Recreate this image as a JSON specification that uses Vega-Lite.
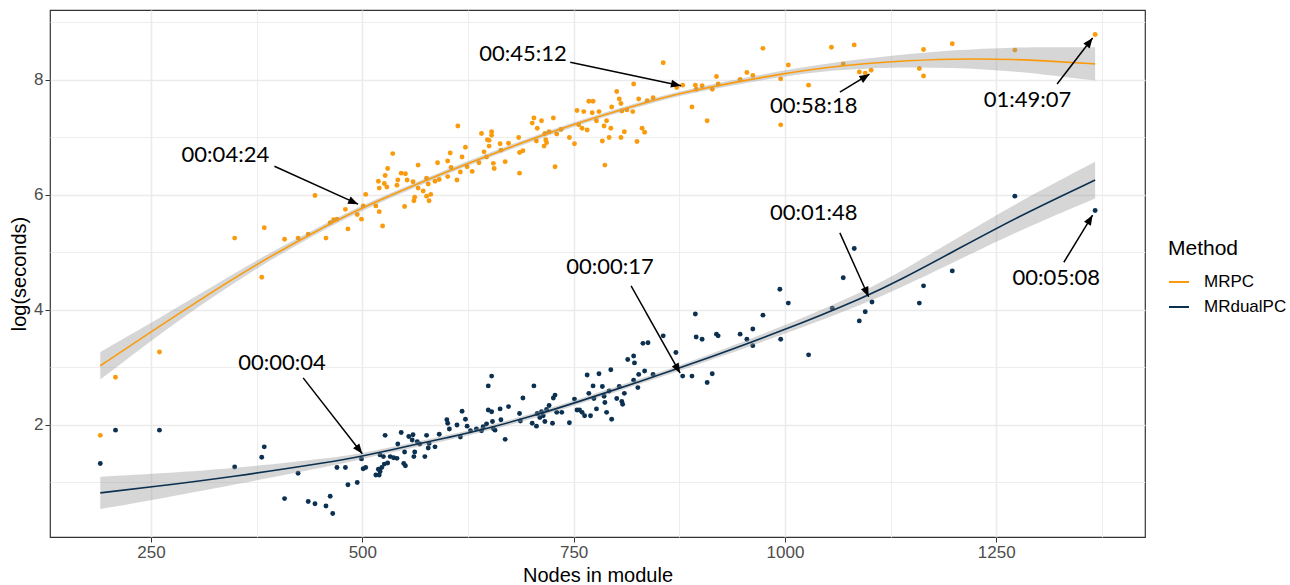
{
  "$schema": "https://vega.github.io/schema/vega-lite/v6.json",
  "width": 1095,
  "height": 527,
  "autosize": {"type": "none"},
  "padding": {"left": 50, "top": 10, "right": 145, "bottom": 48},
  "background": "white",
  "config": {
    "view": {"stroke": "#333333", "strokeWidth": 1.2},
    "axis": {
      "domain": false,
      "gridColor": "#EBEBEB",
      "tickColor": "#333333",
      "tickSize": 5,
      "tickWidth": 1,
      "labelFont": "Liberation Sans",
      "labelFontSize": 17,
      "labelColor": "#4D4D4D",
      "labelPadding": 2,
      "titleFont": "Liberation Sans",
      "titleFontSize": 20,
      "titleFontWeight": "normal",
      "titleColor": "black"
    }
  },
  "datasets": {
    "points": [
      {"method":"MRPC","nodes":190,"logsec":1.82},{"method":"MRPC","nodes":208,"logsec":2.83},{"method":"MRPC","nodes":260,"logsec":3.27},{"method":"MRPC","nodes":349,"logsec":5.25},{"method":"MRPC","nodes":384,"logsec":5.43},{"method":"MRPC","nodes":381,"logsec":4.57},{"method":"MRPC","nodes":408,"logsec":5.23},{"method":"MRPC","nodes":424,"logsec":5.25},{"method":"MRPC","nodes":436,"logsec":5.32},{"method":"MRPC","nodes":444,"logsec":5.99},{"method":"MRPC","nodes":457,"logsec":5.25},{"method":"MRPC","nodes":462,"logsec":5.52},{"method":"MRPC","nodes":466,"logsec":5.57},{"method":"MRPC","nodes":470,"logsec":5.58},{"method":"MRPC","nodes":480,"logsec":5.75},{"method":"MRPC","nodes":483,"logsec":5.41},{"method":"MRPC","nodes":494,"logsec":5.66},{"method":"MRPC","nodes":499,"logsec":5.58},{"method":"MRPC","nodes":501,"logsec":5.81},{"method":"MRPC","nodes":504,"logsec":6.01},{"method":"MRPC","nodes":516,"logsec":5.81},{"method":"MRPC","nodes":520,"logsec":5.71},{"method":"MRPC","nodes":524,"logsec":5.46},{"method":"MRPC","nodes":519,"logsec":6.24},{"method":"MRPC","nodes":520,"logsec":6.12},{"method":"MRPC","nodes":527,"logsec":6.34},{"method":"MRPC","nodes":526,"logsec":6.2},{"method":"MRPC","nodes":530,"logsec":6.46},{"method":"MRPC","nodes":529,"logsec":6.14},{"method":"MRPC","nodes":536,"logsec":6.72},{"method":"MRPC","nodes":541,"logsec":6.17},{"method":"MRPC","nodes":542,"logsec":6.26},{"method":"MRPC","nodes":546,"logsec":6.38},{"method":"MRPC","nodes":550,"logsec":5.8},{"method":"MRPC","nodes":551,"logsec":6.37},{"method":"MRPC","nodes":553,"logsec":6.26},{"method":"MRPC","nodes":560,"logsec":6.23},{"method":"MRPC","nodes":562,"logsec":5.96},{"method":"MRPC","nodes":561,"logsec":5.9},{"method":"MRPC","nodes":566,"logsec":6.52},{"method":"MRPC","nodes":566,"logsec":6.12},{"method":"MRPC","nodes":572,"logsec":6.07},{"method":"MRPC","nodes":576,"logsec":6.29},{"method":"MRPC","nodes":576,"logsec":5.98},{"method":"MRPC","nodes":579,"logsec":5.9},{"method":"MRPC","nodes":581,"logsec":6.01},{"method":"MRPC","nodes":578,"logsec":6.19},{"method":"MRPC","nodes":586,"logsec":6.24},{"method":"MRPC","nodes":589,"logsec":6.56},{"method":"MRPC","nodes":591,"logsec":6.27},{"method":"MRPC","nodes":601,"logsec":6.32},{"method":"MRPC","nodes":601,"logsec":6.59},{"method":"MRPC","nodes":604,"logsec":6.73},{"method":"MRPC","nodes":641,"logsec":7.07},{"method":"MRPC","nodes":648,"logsec":6.96},{"method":"MRPC","nodes":644,"logsec":6.75},{"method":"MRPC","nodes":638,"logsec":6.56},{"method":"MRPC","nodes":647,"logsec":6.66},{"method":"MRPC","nodes":613,"logsec":7.2},{"method":"MRPC","nodes":622,"logsec":6.83},{"method":"MRPC","nodes":618,"logsec":6.66},{"method":"MRPC","nodes":616,"logsec":6.4},{"method":"MRPC","nodes":612,"logsec":6.26},{"method":"MRPC","nodes":624,"logsec":6.49},{"method":"MRPC","nodes":630,"logsec":6.41},{"method":"MRPC","nodes":605,"logsec":6.48},{"method":"MRPC","nodes":653,"logsec":7.1},{"method":"MRPC","nodes":653,"logsec":7.04},{"method":"MRPC","nodes":650,"logsec":6.95},{"method":"MRPC","nodes":650,"logsec":6.85},{"method":"MRPC","nodes":655,"logsec":6.55},{"method":"MRPC","nodes":656,"logsec":6.46},{"method":"MRPC","nodes":663,"logsec":6.89},{"method":"MRPC","nodes":664,"logsec":6.78},{"method":"MRPC","nodes":669,"logsec":6.58},{"method":"MRPC","nodes":673,"logsec":6.9},{"method":"MRPC","nodes":686,"logsec":6.38},{"method":"MRPC","nodes":685,"logsec":7.0},{"method":"MRPC","nodes":686,"logsec":6.74},{"method":"MRPC","nodes":690,"logsec":6.77},{"method":"MRPC","nodes":701,"logsec":7.25},{"method":"MRPC","nodes":703,"logsec":7.34},{"method":"MRPC","nodes":706,"logsec":6.94},{"method":"MRPC","nodes":707,"logsec":7.16},{"method":"MRPC","nodes":712,"logsec":7.29},{"method":"MRPC","nodes":716,"logsec":7.07},{"method":"MRPC","nodes":717,"logsec":6.96},{"method":"MRPC","nodes":715,"logsec":6.85},{"method":"MRPC","nodes":718,"logsec":6.91},{"method":"MRPC","nodes":721,"logsec":7.1},{"method":"MRPC","nodes":726,"logsec":7.34},{"method":"MRPC","nodes":728,"logsec":6.49},{"method":"MRPC","nodes":730,"logsec":7.06},{"method":"MRPC","nodes":735,"logsec":7.14},{"method":"MRPC","nodes":745,"logsec":7.0},{"method":"MRPC","nodes":751,"logsec":6.89},{"method":"MRPC","nodes":754,"logsec":7.47},{"method":"MRPC","nodes":756,"logsec":7.22},{"method":"MRPC","nodes":760,"logsec":7.16},{"method":"MRPC","nodes":762,"logsec":7.45},{"method":"MRPC","nodes":766,"logsec":7.13},{"method":"MRPC","nodes":768,"logsec":7.63},{"method":"MRPC","nodes":773,"logsec":7.63},{"method":"MRPC","nodes":772,"logsec":7.43},{"method":"MRPC","nodes":777,"logsec":7.29},{"method":"MRPC","nodes":780,"logsec":7.45},{"method":"MRPC","nodes":784,"logsec":6.94},{"method":"MRPC","nodes":786,"logsec":7.2},{"method":"MRPC","nodes":787,"logsec":6.52},{"method":"MRPC","nodes":789,"logsec":7.29},{"method":"MRPC","nodes":792,"logsec":7.0},{"method":"MRPC","nodes":794,"logsec":7.16},{"method":"MRPC","nodes":795,"logsec":7.53},{"method":"MRPC","nodes":801,"logsec":7.8},{"method":"MRPC","nodes":804,"logsec":7.67},{"method":"MRPC","nodes":806,"logsec":7.59},{"method":"MRPC","nodes":807,"logsec":7.46},{"method":"MRPC","nodes":806,"logsec":7.0},{"method":"MRPC","nodes":810,"logsec":7.1},{"method":"MRPC","nodes":813,"logsec":7.48},{"method":"MRPC","nodes":821,"logsec":7.93},{"method":"MRPC","nodes":820,"logsec":7.45},{"method":"MRPC","nodes":827,"logsec":7.67},{"method":"MRPC","nodes":825,"logsec":6.93},{"method":"MRPC","nodes":831,"logsec":7.16},{"method":"MRPC","nodes":834,"logsec":7.09},{"method":"MRPC","nodes":837,"logsec":7.64},{"method":"MRPC","nodes":844,"logsec":7.69},{"method":"MRPC","nodes":856,"logsec":8.3},{"method":"MRPC","nodes":872,"logsec":7.87},{"method":"MRPC","nodes":879,"logsec":7.91},{"method":"MRPC","nodes":890,"logsec":7.53},{"method":"MRPC","nodes":894,"logsec":7.91},{"method":"MRPC","nodes":895,"logsec":7.84},{"method":"MRPC","nodes":902,"logsec":7.9},{"method":"MRPC","nodes":908,"logsec":7.29},{"method":"MRPC","nodes":914,"logsec":7.84},{"method":"MRPC","nodes":919,"logsec":8.06},{"method":"MRPC","nodes":921,"logsec":7.93},{"method":"MRPC","nodes":947,"logsec":8.01},{"method":"MRPC","nodes":955,"logsec":8.13},{"method":"MRPC","nodes":962,"logsec":8.08},{"method":"MRPC","nodes":974,"logsec":8.55},{"method":"MRPC","nodes":995,"logsec":8.02},{"method":"MRPC","nodes":995,"logsec":7.22},{"method":"MRPC","nodes":1004,"logsec":8.26},{"method":"MRPC","nodes":1028,"logsec":7.91},{"method":"MRPC","nodes":1055,"logsec":8.57},{"method":"MRPC","nodes":1069,"logsec":8.28},{"method":"MRPC","nodes":1082,"logsec":8.61},{"method":"MRPC","nodes":1088,"logsec":8.14},{"method":"MRPC","nodes":1095,"logsec":8.12},{"method":"MRPC","nodes":1102,"logsec":8.17},{"method":"MRPC","nodes":1159,"logsec":8.2},{"method":"MRPC","nodes":1164,"logsec":8.53},{"method":"MRPC","nodes":1164,"logsec":8.07},{"method":"MRPC","nodes":1198,"logsec":8.63},{"method":"MRPC","nodes":1272,"logsec":8.52},{"method":"MRPC","nodes":1367,"logsec":8.79},
      {"method":"MRdualPC","nodes":190,"logsec":1.33},{"method":"MRdualPC","nodes":208,"logsec":1.91},{"method":"MRdualPC","nodes":260,"logsec":1.91},{"method":"MRdualPC","nodes":349,"logsec":1.27},{"method":"MRdualPC","nodes":381,"logsec":1.44},{"method":"MRdualPC","nodes":384,"logsec":1.62},{"method":"MRdualPC","nodes":408,"logsec":0.72},{"method":"MRdualPC","nodes":424,"logsec":1.16},{"method":"MRdualPC","nodes":436,"logsec":0.67},{"method":"MRdualPC","nodes":444,"logsec":0.63},{"method":"MRdualPC","nodes":457,"logsec":0.59},{"method":"MRdualPC","nodes":462,"logsec":0.76},{"method":"MRdualPC","nodes":465,"logsec":0.46},{"method":"MRdualPC","nodes":470,"logsec":1.26},{"method":"MRdualPC","nodes":480,"logsec":1.26},{"method":"MRdualPC","nodes":483,"logsec":0.96},{"method":"MRdualPC","nodes":494,"logsec":1.0},{"method":"MRdualPC","nodes":499,"logsec":1.41},{"method":"MRdualPC","nodes":501,"logsec":1.24},{"method":"MRdualPC","nodes":504,"logsec":1.26},{"method":"MRdualPC","nodes":516,"logsec":1.13},{"method":"MRdualPC","nodes":520,"logsec":1.13},{"method":"MRdualPC","nodes":519,"logsec":1.23},{"method":"MRdualPC","nodes":523,"logsec":1.26},{"method":"MRdualPC","nodes":526,"logsec":1.32},{"method":"MRdualPC","nodes":527,"logsec":1.82},{"method":"MRdualPC","nodes":530,"logsec":1.34},{"method":"MRdualPC","nodes":525,"logsec":1.45},{"method":"MRdualPC","nodes":533,"logsec":1.45},{"method":"MRdualPC","nodes":537,"logsec":1.43},{"method":"MRdualPC","nodes":541,"logsec":1.42},{"method":"MRdualPC","nodes":542,"logsec":1.67},{"method":"MRdualPC","nodes":546,"logsec":1.87},{"method":"MRdualPC","nodes":549,"logsec":1.33},{"method":"MRdualPC","nodes":551,"logsec":1.29},{"method":"MRdualPC","nodes":550,"logsec":1.53},{"method":"MRdualPC","nodes":555,"logsec":1.8},{"method":"MRdualPC","nodes":560,"logsec":1.83},{"method":"MRdualPC","nodes":561,"logsec":1.45},{"method":"MRdualPC","nodes":562,"logsec":1.53},{"method":"MRdualPC","nodes":565,"logsec":1.71},{"method":"MRdualPC","nodes":568,"logsec":1.67},{"method":"MRdualPC","nodes":574,"logsec":1.45},{"method":"MRdualPC","nodes":576,"logsec":1.82},{"method":"MRdualPC","nodes":578,"logsec":1.6},{"method":"MRdualPC","nodes":579,"logsec":1.68},{"method":"MRdualPC","nodes":586,"logsec":1.62},{"method":"MRdualPC","nodes":591,"logsec":1.84},{"method":"MRdualPC","nodes":600,"logsec":2.09},{"method":"MRdualPC","nodes":601,"logsec":2.03},{"method":"MRdualPC","nodes":603,"logsec":1.93},{"method":"MRdualPC","nodes":618,"logsec":2.24},{"method":"MRdualPC","nodes":612,"logsec":2.0},{"method":"MRdualPC","nodes":622,"logsec":2.1},{"method":"MRdualPC","nodes":624,"logsec":1.98},{"method":"MRdualPC","nodes":616,"logsec":1.79},{"method":"MRdualPC","nodes":628,"logsec":1.9},{"method":"MRdualPC","nodes":643,"logsec":1.97},{"method":"MRdualPC","nodes":647,"logsec":2.02},{"method":"MRdualPC","nodes":649,"logsec":2.26},{"method":"MRdualPC","nodes":641,"logsec":1.9},{"method":"MRdualPC","nodes":635,"logsec":1.93},{"method":"MRdualPC","nodes":559,"logsec":1.74},{"method":"MRdualPC","nodes":521,"logsec":1.48},{"method":"MRdualPC","nodes":521,"logsec":1.19},{"method":"MRdualPC","nodes":653,"logsec":2.23},{"method":"MRdualPC","nodes":655,"logsec":1.94},{"method":"MRdualPC","nodes":657,"logsec":1.91},{"method":"MRdualPC","nodes":654,"logsec":2.06},{"method":"MRdualPC","nodes":649,"logsec":2.68},{"method":"MRdualPC","nodes":653,"logsec":2.85},{"method":"MRdualPC","nodes":663,"logsec":2.28},{"method":"MRdualPC","nodes":664,"logsec":2.09},{"method":"MRdualPC","nodes":669,"logsec":1.75},{"method":"MRdualPC","nodes":673,"logsec":2.32},{"method":"MRdualPC","nodes":686,"logsec":2.2},{"method":"MRdualPC","nodes":687,"logsec":2.07},{"method":"MRdualPC","nodes":690,"logsec":2.47},{"method":"MRdualPC","nodes":701,"logsec":2.03},{"method":"MRdualPC","nodes":703,"logsec":2.68},{"method":"MRdualPC","nodes":706,"logsec":1.98},{"method":"MRdualPC","nodes":707,"logsec":2.2},{"method":"MRdualPC","nodes":710,"logsec":2.13},{"method":"MRdualPC","nodes":712,"logsec":2.23},{"method":"MRdualPC","nodes":714,"logsec":2.16},{"method":"MRdualPC","nodes":716,"logsec":2.06},{"method":"MRdualPC","nodes":718,"logsec":2.27},{"method":"MRdualPC","nodes":721,"logsec":2.34},{"method":"MRdualPC","nodes":726,"logsec":2.47},{"method":"MRdualPC","nodes":728,"logsec":2.52},{"method":"MRdualPC","nodes":725,"logsec":2.03},{"method":"MRdualPC","nodes":730,"logsec":2.22},{"method":"MRdualPC","nodes":736,"logsec":2.22},{"method":"MRdualPC","nodes":745,"logsec":2.04},{"method":"MRdualPC","nodes":751,"logsec":2.45},{"method":"MRdualPC","nodes":754,"logsec":2.26},{"method":"MRdualPC","nodes":757,"logsec":2.26},{"method":"MRdualPC","nodes":760,"logsec":2.22},{"method":"MRdualPC","nodes":763,"logsec":2.16},{"method":"MRdualPC","nodes":766,"logsec":2.87},{"method":"MRdualPC","nodes":768,"logsec":2.55},{"method":"MRdualPC","nodes":770,"logsec":2.16},{"method":"MRdualPC","nodes":773,"logsec":2.68},{"method":"MRdualPC","nodes":774,"logsec":2.46},{"method":"MRdualPC","nodes":777,"logsec":2.28},{"method":"MRdualPC","nodes":780,"logsec":2.89},{"method":"MRdualPC","nodes":784,"logsec":2.67},{"method":"MRdualPC","nodes":786,"logsec":2.5},{"method":"MRdualPC","nodes":787,"logsec":2.39},{"method":"MRdualPC","nodes":789,"logsec":2.22},{"method":"MRdualPC","nodes":792,"logsec":2.59},{"method":"MRdualPC","nodes":794,"logsec":2.96},{"method":"MRdualPC","nodes":795,"logsec":2.1},{"method":"MRdualPC","nodes":801,"logsec":2.46},{"method":"MRdualPC","nodes":804,"logsec":2.67},{"method":"MRdualPC","nodes":807,"logsec":2.41},{"method":"MRdualPC","nodes":808,"logsec":2.36},{"method":"MRdualPC","nodes":810,"logsec":2.55},{"method":"MRdualPC","nodes":814,"logsec":3.14},{"method":"MRdualPC","nodes":821,"logsec":3.2},{"method":"MRdualPC","nodes":822,"logsec":3.08},{"method":"MRdualPC","nodes":826,"logsec":2.65},{"method":"MRdualPC","nodes":827,"logsec":2.88},{"method":"MRdualPC","nodes":832,"logsec":3.42},{"method":"MRdualPC","nodes":834,"logsec":2.94},{"method":"MRdualPC","nodes":838,"logsec":3.43},{"method":"MRdualPC","nodes":821,"logsec":2.78},{"method":"MRdualPC","nodes":844,"logsec":2.88},{"method":"MRdualPC","nodes":856,"logsec":3.55},{"method":"MRdualPC","nodes":871,"logsec":3.26},{"method":"MRdualPC","nodes":879,"logsec":2.85},{"method":"MRdualPC","nodes":890,"logsec":2.85},{"method":"MRdualPC","nodes":894,"logsec":3.93},{"method":"MRdualPC","nodes":895,"logsec":3.53},{"method":"MRdualPC","nodes":902,"logsec":3.49},{"method":"MRdualPC","nodes":908,"logsec":2.74},{"method":"MRdualPC","nodes":914,"logsec":2.89},{"method":"MRdualPC","nodes":919,"logsec":3.58},{"method":"MRdualPC","nodes":921,"logsec":3.55},{"method":"MRdualPC","nodes":947,"logsec":3.58},{"method":"MRdualPC","nodes":955,"logsec":3.49},{"method":"MRdualPC","nodes":962,"logsec":3.67},{"method":"MRdualPC","nodes":962,"logsec":3.38},{"method":"MRdualPC","nodes":974,"logsec":3.91},{"method":"MRdualPC","nodes":994,"logsec":4.36},{"method":"MRdualPC","nodes":995,"logsec":3.49},{"method":"MRdualPC","nodes":1004,"logsec":4.12},{"method":"MRdualPC","nodes":1028,"logsec":3.22},{"method":"MRdualPC","nodes":1056,"logsec":4.03},{"method":"MRdualPC","nodes":1069,"logsec":4.56},{"method":"MRdualPC","nodes":1082,"logsec":5.07},{"method":"MRdualPC","nodes":1088,"logsec":3.81},{"method":"MRdualPC","nodes":1095,"logsec":3.97},{"method":"MRdualPC","nodes":1103,"logsec":4.14},{"method":"MRdualPC","nodes":1159,"logsec":4.12},{"method":"MRdualPC","nodes":1164,"logsec":4.42},{"method":"MRdualPC","nodes":1198,"logsec":4.68},{"method":"MRdualPC","nodes":1272,"logsec":5.98},{"method":"MRdualPC","nodes":1367,"logsec":5.73}
    ],
    "smooth": [
      {"method":"MRPC","nodes":190,"fit":3.03,"lo":2.79,"hi":3.27},
      {"method":"MRPC","nodes":250,"fit":3.62,"lo":3.47,"hi":3.77},
      {"method":"MRPC","nodes":308,"fit":4.18,"lo":4.08,"hi":4.28},
      {"method":"MRPC","nodes":375,"fit":4.8,"lo":4.73,"hi":4.87},
      {"method":"MRPC","nodes":440,"fit":5.33,"lo":5.28,"hi":5.38},
      {"method":"MRPC","nodes":500,"fit":5.79,"lo":5.745,"hi":5.835},
      {"method":"MRPC","nodes":604,"fit":6.43,"lo":6.39,"hi":6.47},
      {"method":"MRPC","nodes":651,"fit":6.7,"lo":6.66,"hi":6.74},
      {"method":"MRPC","nodes":750,"fit":7.24,"lo":7.2,"hi":7.28},
      {"method":"MRPC","nodes":829,"fit":7.58,"lo":7.54,"hi":7.62},
      {"method":"MRPC","nodes":876,"fit":7.78,"lo":7.74,"hi":7.82},
      {"method":"MRPC","nodes":998,"fit":8.12,"lo":8.07,"hi":8.17},
      {"method":"MRPC","nodes":1065,"fit":8.25,"lo":8.18,"hi":8.32},
      {"method":"MRPC","nodes":1125,"fit":8.32,"lo":8.22,"hi":8.42},
      {"method":"MRPC","nodes":1196,"fit":8.37,"lo":8.22,"hi":8.52},
      {"method":"MRPC","nodes":1275,"fit":8.36,"lo":8.15,"hi":8.57},
      {"method":"MRPC","nodes":1322,"fit":8.32,"lo":8.07,"hi":8.57},
      {"method":"MRPC","nodes":1367,"fit":8.28,"lo":7.99,"hi":8.57},
      {"method":"MRdualPC","nodes":190,"fit":0.82,"lo":0.54,"hi":1.1},
      {"method":"MRdualPC","nodes":250,"fit":0.92,"lo":0.69,"hi":1.15},
      {"method":"MRdualPC","nodes":347,"fit":1.1,"lo":0.96,"hi":1.24},
      {"method":"MRdualPC","nodes":465,"fit":1.36,"lo":1.29,"hi":1.43},
      {"method":"MRdualPC","nodes":500,"fit":1.46,"lo":1.41,"hi":1.51},
      {"method":"MRdualPC","nodes":560,"fit":1.65,"lo":1.605,"hi":1.695},
      {"method":"MRdualPC","nodes":604,"fit":1.79,"lo":1.745,"hi":1.835},
      {"method":"MRdualPC","nodes":651,"fit":1.95,"lo":1.905,"hi":1.995},
      {"method":"MRdualPC","nodes":700,"fit":2.15,"lo":2.105,"hi":2.195},
      {"method":"MRdualPC","nodes":751,"fit":2.38,"lo":2.335,"hi":2.425},
      {"method":"MRdualPC","nodes":841,"fit":2.82,"lo":2.775,"hi":2.865},
      {"method":"MRdualPC","nodes":876,"fit":2.99,"lo":2.945,"hi":3.035},
      {"method":"MRdualPC","nodes":1000,"fit":3.65,"lo":3.58,"hi":3.72},
      {"method":"MRdualPC","nodes":1097,"fit":4.24,"lo":4.13,"hi":4.35},
      {"method":"MRdualPC","nodes":1136,"fit":4.52,"lo":4.38,"hi":4.66},
      {"method":"MRdualPC","nodes":1196,"fit":4.99,"lo":4.8,"hi":5.18},
      {"method":"MRdualPC","nodes":1275,"fit":5.62,"lo":5.37,"hi":5.87},
      {"method":"MRdualPC","nodes":1367,"fit":6.26,"lo":5.94,"hi":6.58}
    ],
    "notes": [
      {"label":"00:04:24","tx":338,"ty":6.7,"x1":396,"y1":6.5,"x2":495,"y2":5.84},
      {"label":"00:45:12","tx":690,"ty":8.45,"x1":746,"y1":8.31,"x2":877,"y2":7.9},
      {"label":"00:58:18","tx":1034,"ty":7.55,"x1":1065,"y1":7.79,"x2":1100,"y2":8.1},
      {"label":"01:49:07","tx":1287,"ty":7.65,"x1":1322,"y1":7.93,"x2":1364,"y2":8.73},
      {"label":"00:01:48","tx":1034,"ty":5.69,"x1":1065,"y1":5.34,"x2":1099,"y2":4.23},
      {"label":"00:05:08","tx":1321,"ty":4.56,"x1":1330,"y1":4.83,"x2":1364,"y2":5.65},
      {"label":"00:00:17","tx":793,"ty":4.75,"x1":818,"y1":4.42,"x2":876,"y2":2.9},
      {"label":"00:00:04","tx":405,"ty":3.08,"x1":430,"y1":2.82,"x2":500,"y2":1.5}
    ]
  },
  "layer": [
    {
      "data": {"name": "points"},
      "mark": {"type": "point", "filled": true, "size": 24, "opacity": 1},
      "encoding": {
        "x": {
          "field": "nodes", "type": "quantitative", "title": "Nodes in module",
          "scale": {"domain": [130.5, 1426], "nice": false, "zero": false},
          "axis": {
            "values": [250, 375, 500, 625, 750, 875, 1000, 1125, 1250, 1375],
            "labelExpr": "datum.value % 250 === 0 ? format(datum.value, 'd') : ''",
            "grid": true,
            "gridWidth": {"condition": {"test": "datum.value % 250 === 0", "value": 1.6}, "value": 0.9},
            "tickOpacity": {"condition": {"test": "datum.value % 250 === 0", "value": 1}, "value": 0},
            "titlePadding": 5
          }
        },
        "y": {
          "field": "logsec", "type": "quantitative", "title": "log(seconds)",
          "scale": {"domain": [0.052, 9.217], "nice": false, "zero": false},
          "axis": {
            "values": [1, 2, 3, 4, 5, 6, 7, 8, 9],
            "labelExpr": "datum.value % 2 === 0 ? format(datum.value, 'd') : ''",
            "grid": true,
            "gridWidth": {"condition": {"test": "datum.value % 2 === 0", "value": 1.6}, "value": 0.9},
            "tickOpacity": {"condition": {"test": "datum.value % 2 === 0", "value": 1}, "value": 0},
            "titlePadding": 4
          }
        },
        "color": {
          "field": "method", "type": "nominal",
          "scale": {"domain": ["MRPC", "MRdualPC"], "range": ["#F99B0C", "#0B3050"]}
        }
      }
    },
    {
      "data": {"name": "smooth"},
      "mark": {"type": "area", "color": "#999999", "opacity": 0.4, "interpolate": "basis"},
      "encoding": {
        "x": {"field": "nodes", "type": "quantitative"},
        "y": {"field": "lo", "type": "quantitative"},
        "y2": {"field": "hi"},
        "detail": {"field": "method", "type": "nominal"}
      }
    },
    {
      "data": {"name": "smooth"},
      "mark": {"type": "line", "strokeWidth": 1.6, "interpolate": "basis"},
      "encoding": {
        "x": {"field": "nodes", "type": "quantitative"},
        "y": {"field": "fit", "type": "quantitative"},
        "color": {
          "field": "method", "type": "nominal",
          "legend": {
            "title": "Method",
            "orient": "none",
            "legendX": 1118,
            "legendY": 228,
            "titleFont": "Liberation Sans",
            "titleFontSize": 21,
            "titleFontWeight": "normal",
            "titleColor": "black",
            "titlePadding": 12,
            "labelFont": "Liberation Sans",
            "labelFontSize": 17,
            "labelColor": "black",
            "labelOffset": 14,
            "symbolType": "stroke",
            "symbolSize": 400,
            "symbolStrokeWidth": 2,
            "rowPadding": 6,
            "encode": {
              "symbols": {
                "update": {
                  "stroke": {"scale": "color", "field": "value"},
                  "strokeWidth": {"value": 2},
                  "fill": {"value": "transparent"}
                }
              }
            }
          }
        }
      }
    },
    {
      "data": {"name": "notes"},
      "mark": {"type": "rule", "color": "black", "strokeWidth": 1.5},
      "encoding": {
        "x": {"field": "x1", "type": "quantitative"},
        "y": {"field": "y1", "type": "quantitative"},
        "x2": {"field": "x2"},
        "y2": {"field": "y2"}
      }
    },
    {"data": {"name": "notes"}, "transform": [{"filter": "datum.label === '00:04:24'"}],
     "mark": {"type": "point", "shape": "M0,0L0.4,1L-0.4,1Z", "filled": true, "opacity": 1, "size": 400, "color": "black", "angle": 114.3},
     "encoding": {"x": {"field": "x2", "type": "quantitative"}, "y": {"field": "y2", "type": "quantitative"}}},
    {"data": {"name": "notes"}, "transform": [{"filter": "datum.label === '00:45:12'"}],
     "mark": {"type": "point", "shape": "M0,0L0.4,1L-0.4,1Z", "filled": true, "opacity": 1, "size": 400, "color": "black", "angle": 102.2},
     "encoding": {"x": {"field": "x2", "type": "quantitative"}, "y": {"field": "y2", "type": "quantitative"}}},
    {"data": {"name": "notes"}, "transform": [{"filter": "datum.label === '00:58:18'"}],
     "mark": {"type": "point", "shape": "M0,0L0.4,1L-0.4,1Z", "filled": true, "opacity": 1, "size": 400, "color": "black", "angle": 58.2},
     "encoding": {"x": {"field": "x2", "type": "quantitative"}, "y": {"field": "y2", "type": "quantitative"}}},
    {"data": {"name": "notes"}, "transform": [{"filter": "datum.label === '01:49:07'"}],
     "mark": {"type": "point", "shape": "M0,0L0.4,1L-0.4,1Z", "filled": true, "opacity": 1, "size": 400, "color": "black", "angle": 37.3},
     "encoding": {"x": {"field": "x2", "type": "quantitative"}, "y": {"field": "y2", "type": "quantitative"}}},
    {"data": {"name": "notes"}, "transform": [{"filter": "datum.label === '00:01:48'"}],
     "mark": {"type": "point", "shape": "M0,0L0.4,1L-0.4,1Z", "filled": true, "opacity": 1, "size": 400, "color": "black", "angle": 156.4},
     "encoding": {"x": {"field": "x2", "type": "quantitative"}, "y": {"field": "y2", "type": "quantitative"}}},
    {"data": {"name": "notes"}, "transform": [{"filter": "datum.label === '00:05:08'"}],
     "mark": {"type": "point", "shape": "M0,0L0.4,1L-0.4,1Z", "filled": true, "opacity": 1, "size": 400, "color": "black", "angle": 30.8},
     "encoding": {"x": {"field": "x2", "type": "quantitative"}, "y": {"field": "y2", "type": "quantitative"}}},
    {"data": {"name": "notes"}, "transform": [{"filter": "datum.label === '00:00:17'"}],
     "mark": {"type": "point", "shape": "M0,0L0.4,1L-0.4,1Z", "filled": true, "opacity": 1, "size": 400, "color": "black", "angle": 150.6},
     "encoding": {"x": {"field": "x2", "type": "quantitative"}, "y": {"field": "y2", "type": "quantitative"}}},
    {"data": {"name": "notes"}, "transform": [{"filter": "datum.label === '00:00:04'"}],
     "mark": {"type": "point", "shape": "M0,0L0.4,1L-0.4,1Z", "filled": true, "opacity": 1, "size": 400, "color": "black", "angle": 142.2},
     "encoding": {"x": {"field": "x2", "type": "quantitative"}, "y": {"field": "y2", "type": "quantitative"}}},
    {
      "data": {"name": "notes"},
      "mark": {"type": "text", "font": "Lato", "fontSize": 22, "color": "black", "align": "center", "baseline": "middle"},
      "encoding": {
        "x": {"field": "tx", "type": "quantitative"},
        "y": {"field": "ty", "type": "quantitative"},
        "text": {"field": "label", "type": "nominal"}
      }
    }
  ]
}
